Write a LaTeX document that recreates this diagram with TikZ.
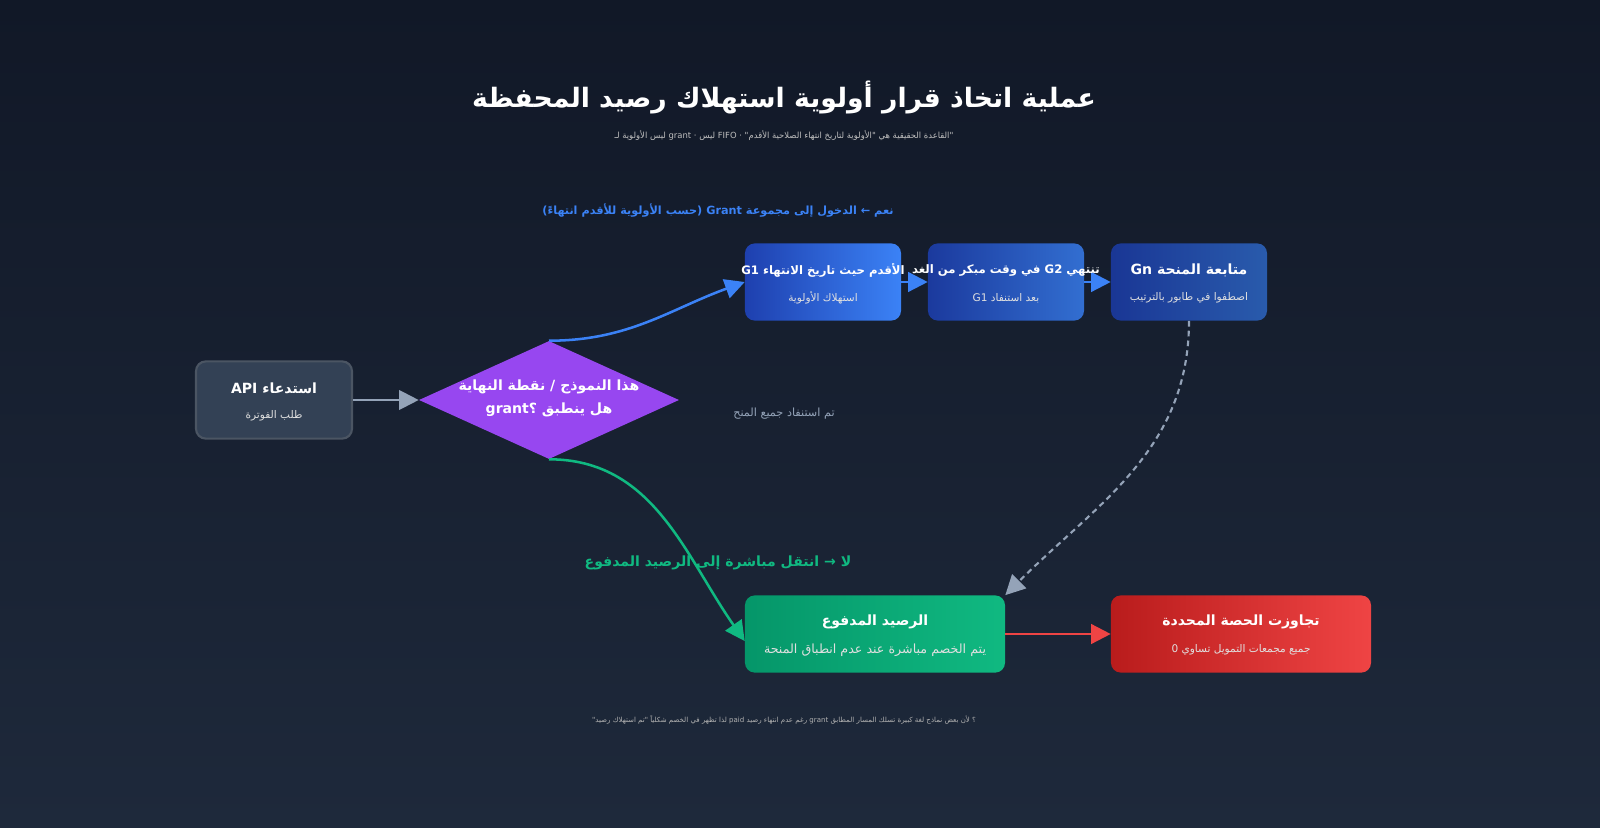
\documentclass[tikz,border=0pt]{standalone}
\usepackage{fontspec}
\newfontfamily\arabicfont[Script=Arabic]{DejaVu Sans}
\TeXXeTstate=1
\usetikzlibrary{shapes.geometric,arrows.meta}
\definecolor{bgtop}{HTML}{111827}
\definecolor{bgbot}{HTML}{1E293B}
\definecolor{slatebox}{HTML}{334155}
\definecolor{slateline}{HTML}{4B5563}
\definecolor{arrowgrey}{HTML}{94A3B8}
\definecolor{blueA}{HTML}{1E40AF}
\definecolor{blueB}{HTML}{3B82F6}
\definecolor{greenA}{HTML}{059669}
\definecolor{greenB}{HTML}{10B981}
\definecolor{redA}{HTML}{B91C1C}
\definecolor{redB}{HTML}{EF4444}
\definecolor{purple}{HTML}{9747F0}
\newcommand{\ar}[1]{{\arabicfont\beginR #1\endR}}
\tikzset{
  box/.style={rounded corners=7pt,minimum width=3.9cm,minimum height=1.93cm},
  wide/.style={box,minimum width=6.5cm},
  ttl/.style={text=white,font=\arabicfont\bfseries\fontsize{10}{12}\selectfont},
  smallttl/.style={ttl,font=\arabicfont\bfseries\fontsize{8.3}{10}\selectfont},
  sub/.style={text=white!88!black,font=\arabicfont\fontsize{7.5}{9}\selectfont},
  tip/.style={-{Triangle[length=14pt,width=14pt]}},
}
\begin{document}
\begin{tikzpicture}[x=0.025cm,y=-0.025cm]
    % 背景
    \shade[top color=bgtop,bottom color=bgbot] (0,0) rectangle (1600,828);
    \useasboundingbox (0,0) rectangle (1600,828);

    % 标题
    \node (title) at (784,98) [text=white,font=\arabicfont\bfseries\fontsize{19}{22}\selectfont] {\ar{عملية اتخاذ قرار أولوية استهلاك رصيد المحفظة}};
    \node (subtitle) at (784,136) [text=white!75!black,font=\arabicfont\fontsize{6}{7}\selectfont] {\ar{"القاعدة الحقيقية هي "الأولوية لتاريخ انتهاء الصلاحية الأقدم" · FIFO ليس · grant ليس الأولوية لـ}};

    % 节点
    \node[box,fill=slatebox,draw=slateline,line width=1.5pt] (api) at (274,400) {};
    \node[ttl] at (274,388) {\ar{استدعاء API}};
    \node[sub] at (274,416) {\ar{طلب الفوترة}};

    \node[diamond,aspect=2.2,fill=purple,minimum width=6.5cm,minimum height=2.95cm,inner sep=0pt] (dec) at (549,400) {};
    \node[ttl] at (549,387) {\ar{هذا النموذج / نقطة النهاية}};
    \node[ttl] at (549,410) {\ar{هل ينطبق grant؟}};

    \node[box,left color=blueA,right color=blueB] (g1) at (823,282) {};
    \node[box,left color=blueA!90!black,right color=blueB!85!black] (g2) at (1006,282) {};
    \node[box,left color=blueA!85!black,right color=blueB!70!black] (gn) at (1189,282) {};
    \node[box,wide,left color=greenA,right color=greenB,minimum width=6.5cm] (paid) at (875,634) {};
    \node[box,wide,left color=redA,right color=redB,minimum width=6.5cm] (quota) at (1241,634) {};

    \draw[tip,arrowgrey,line width=1.5pt] (api) -- (dec);
    \draw[tip,blueB,line width=1.8pt] (dec.north) to[out=0,in=200] (g1.west);
    \draw[tip,blueB,line width=1.8pt] (g1) -- (g2);
    \draw[tip,blueB,line width=1.8pt] (g2) -- (gn);
    \draw[tip,greenB,line width=1.8pt] (dec.south) to[out=0,in=125] ([yshift=-5pt]paid.west);
    \draw[tip,arrowgrey,line width=1.5pt,dash pattern=on 4pt off 3pt] (gn.south) to[out=-90,in=45] (paid.north east);
    \draw[tip,redB,line width=1.8pt] (paid) -- (quota);

    % 文字
    \node[smallttl] at (823,270) {\ar{الأقدم حيث تاريخ الانتهاء G1}};
    \node[sub] at (823,298) {\ar{استهلاك الأولوية}};
    \node[smallttl] at (1006,270) {\ar{تنتهي G2 في وقت مبكر من الغد}};
    \node[sub] at (1006,298) {\ar{بعد استنفاد G1}};
    \node[ttl] at (1189,270) {\ar{متابعة المنحة Gn}};
    \node[sub] at (1189,298) {\ar{اصطفوا في طابور بالترتيب}};
    \node[ttl] at (875,622) {\ar{الرصيد المدفوع}};
    \node[sub,font=\arabicfont\fontsize{9}{11}\selectfont] at (875,650) {\ar{يتم الخصم مباشرة عند عدم انطباق المنحة}};
    \node[ttl] at (1241,622) {\ar{تجاوزت الحصة المحددة}};
    \node[sub] at (1241,650) {\ar{جميع مجمعات التمويل تساوي 0}};

    \node[text=blueB,font=\arabicfont\bfseries\fontsize{8}{10}\selectfont] (yes) at (718,211) {\ar{نعم ← الدخول إلى مجموعة Grant (حسب الأولوية للأقدم انتهاءً)}};
    \node[text=greenB,font=\arabicfont\bfseries\fontsize{10}{12}\selectfont] (no) at (718,563) {\ar{لا → انتقل مباشرة إلى الرصيد المدفوع}};
    \node[text=arrowgrey,font=\arabicfont\fontsize{8}{10}\selectfont] (empty) at (784,414) {\ar{تم استنفاد جميع المنح}};
    \node[text=white!70!black,font=\arabicfont\fontsize{5}{6}\selectfont] (foot) at (784,720) {\ar{؟ لأن بعض نماذج لغة كبيرة تسلك المسار المطابق grant رغم عدم انتهاء رصيد paid لذا تظهر في الخصم شكلياً "تم استهلاك رصيد"}};
\end{tikzpicture}
\end{document}
